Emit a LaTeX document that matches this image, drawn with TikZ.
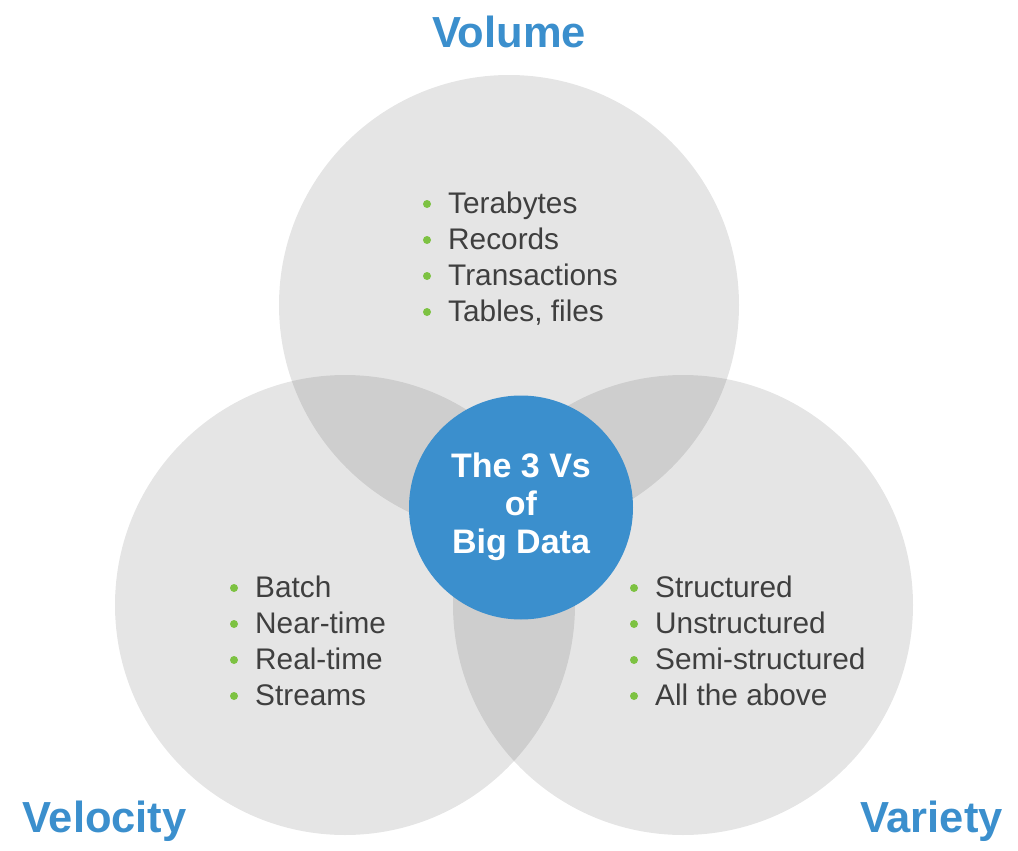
\documentclass[tikz,border=0pt]{standalone}
\usepackage{fontspec}
\setmainfont{Liberation Sans}
\definecolor{vblue}{HTML}{3B8FCD}
\definecolor{vgreen}{HTML}{7DC242}
\definecolor{vtext}{HTML}{3F3F3F}
\tikzset{
  vcircle/.style={fill=black,fill opacity=0.1,draw=none},
  vtitle/.style={text=vblue,font=\fontsize{43.5}{50}\selectfont\bfseries,inner sep=0pt},
  vitem/.style={text=vtext,font=\fontsize{29.8}{34}\selectfont,anchor=base west,inner sep=0pt},
  vbullet/.style={circle,fill=vgreen,inner sep=0pt,minimum size=8pt,draw=none}
}
\newcommand{\vlist}[4]{% x y name {items}
  \foreach \t [count=\i] in {#4} {
    \node[vbullet] (#3b\i) at (#1-21, #2+36*\i-36-9) {};
    \node[vitem] (#3t\i) at (#1, #2+36*\i-36) {\t};
  }
}
\begin{document}
\begin{tikzpicture}[x=1pt,y=-1pt]
\useasboundingbox (0,0) rectangle (1018,851);
\fill[vcircle] (509,305) circle (230);
\fill[vcircle] (345,605) circle (230);
\fill[vcircle] (683,605) circle (230);
\node[circle,fill=vblue,minimum size=224pt,inner sep=0pt] (center) at (521,507.5) {};
\node[text=white,font=\fontsize{34}{38}\selectfont\bfseries,align=center,anchor=base] (ctext) at (521,553)
  {The 3 Vs\\of\\Big Data};
\node[vtitle,anchor=base] (volume) at (509,48) {Volume};
\node[vtitle,anchor=base west] (velocity) at (22,832) {Velocity};
\node[vtitle,anchor=base east] (variety) at (1003,832) {Variety};
\vlist{448}{213}{vol}{Terabytes,Records,Transactions,{Tables, files}}
\vlist{255}{597}{vel}{Batch,Near-time,Real-time,Streams}
\vlist{655}{597}{var}{Structured,Unstructured,Semi-structured,All the above}
\end{tikzpicture}
\end{document}
